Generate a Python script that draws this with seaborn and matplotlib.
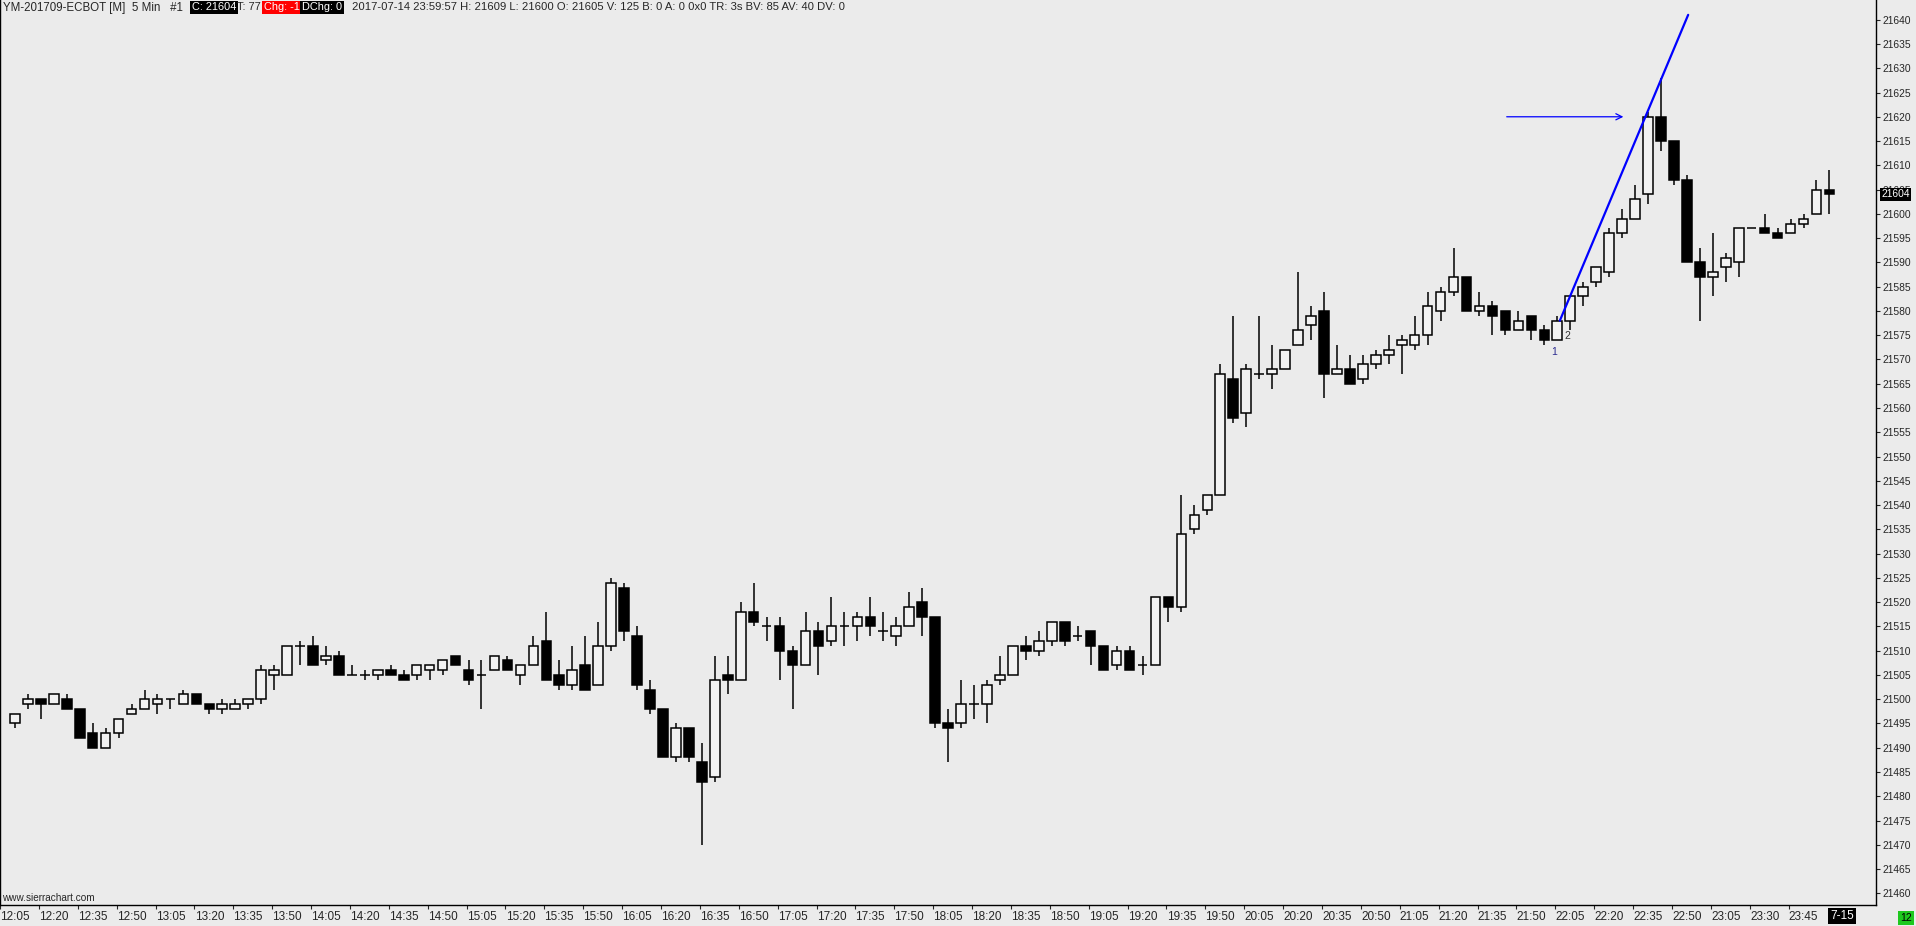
import numpy as np
import pandas as pd
import matplotlib
matplotlib.use('Agg')
import matplotlib.pyplot as plt
import matplotlib.transforms as mtransforms
from matplotlib import font_manager
import seaborn as sns

# Dados das velas de 5 minutos (YM-201709, 14/07/2017)
abertura = [21495, 21499, 21500, 21499, 21500, 21498, 21493, 21490, 21493, 21497,
            21498, 21499, 21500, 21499, 21501, 21499, 21498, 21498, 21499, 21500,
            21505, 21505, 21511, 21511, 21508, 21509, 21505, 21505, 21505, 21506,
            21505, 21505, 21506, 21506, 21509, 21506, 21505, 21506, 21508, 21505,
            21507, 21512, 21505, 21503, 21507, 21503, 21511, 21523, 21513, 21502,
            21498, 21488, 21494, 21487, 21484, 21505, 21504, 21518, 21515, 21515,
            21510, 21507, 21514, 21512, 21515, 21515, 21517, 21514, 21513, 21515,
            21520, 21517, 21495, 21495, 21499, 21499, 21504, 21505, 21511, 21510,
            21512, 21516, 21513, 21514, 21511, 21507, 21510, 21507, 21507, 21521,
            21519, 21535, 21539, 21542, 21566, 21559, 21567, 21567, 21568, 21573,
            21577, 21580, 21567, 21568, 21566, 21569, 21571, 21573, 21573, 21575,
            21580, 21584, 21587, 21580, 21581, 21580, 21576, 21579, 21576, 21574,
            21578, 21583, 21586, 21588, 21596, 21599, 21604, 21620, 21615, 21607,
            21590, 21587, 21589, 21590, 21597, 21597, 21596, 21596, 21598, 21600,
            21605]
maxima = [21497, 21501, 21500, 21501, 21501, 21498, 21495, 21494, 21496, 21499,
          21502, 21501, 21500, 21502, 21501, 21499, 21500, 21500, 21500, 21507,
          21507, 21511, 21512, 21513, 21511, 21510, 21507, 21506, 21506, 21507,
          21506, 21507, 21507, 21508, 21509, 21508, 21508, 21509, 21509, 21507,
          21513, 21518, 21508, 21511, 21513, 21516, 21525, 21524, 21515, 21504,
          21498, 21495, 21494, 21491, 21509, 21509, 21520, 21524, 21517, 21517,
          21511, 21518, 21516, 21521, 21518, 21518, 21521, 21518, 21517, 21522,
          21523, 21517, 21498, 21504, 21503, 21504, 21509, 21511, 21513, 21514,
          21516, 21516, 21515, 21514, 21511, 21511, 21511, 21509, 21521, 21521,
          21542, 21540, 21542, 21569, 21579, 21569, 21579, 21573, 21572, 21588,
          21581, 21584, 21573, 21571, 21571, 21572, 21575, 21575, 21579, 21584,
          21585, 21593, 21587, 21584, 21582, 21580, 21580, 21579, 21577, 21579,
          21583, 21586, 21589, 21597, 21601, 21606, 21621, 21628, 21615, 21608,
          21593, 21596, 21592, 21597, 21597, 21600, 21597, 21599, 21600, 21607,
          21609]
minimas = [21494, 21498, 21496, 21499, 21498, 21492, 21490, 21490, 21492, 21497,
           21498, 21497, 21498, 21499, 21499, 21497, 21497, 21498, 21498, 21499,
           21502, 21505, 21507, 21507, 21507, 21505, 21505, 21504, 21504, 21505,
           21504, 21504, 21504, 21505, 21507, 21503, 21498, 21506, 21506, 21503,
           21507, 21504, 21502, 21502, 21502, 21503, 21510, 21512, 21502, 21497,
           21488, 21487, 21487, 21470, 21483, 21501, 21504, 21515, 21512, 21504,
           21498, 21507, 21505, 21511, 21511, 21512, 21513, 21512, 21511, 21515,
           21513, 21494, 21487, 21494, 21496, 21495, 21503, 21505, 21508, 21509,
           21511, 21511, 21512, 21507, 21506, 21506, 21506, 21505, 21507, 21516,
           21518, 21534, 21538, 21542, 21557, 21556, 21566, 21564, 21568, 21573,
           21574, 21562, 21567, 21565, 21565, 21568, 21569, 21567, 21572, 21573,
           21578, 21583, 21580, 21579, 21575, 21575, 21576, 21574, 21573, 21574,
           21576, 21581, 21585, 21587, 21595, 21599, 21602, 21613, 21606, 21590,
           21578, 21583, 21586, 21587, 21597, 21596, 21595, 21596, 21597, 21600,
           21600]
fechamento = [21497, 21500, 21499, 21501, 21498, 21492, 21490, 21493, 21496, 21498,
              21500, 21500, 21500, 21501, 21499, 21498, 21499, 21499, 21500, 21506,
              21506, 21511, 21511, 21507, 21509, 21505, 21505, 21505, 21506, 21505,
              21504, 21507, 21507, 21508, 21507, 21504, 21505, 21509, 21506, 21507,
              21511, 21504, 21503, 21506, 21502, 21511, 21524, 21514, 21503, 21498,
              21488, 21494, 21488, 21483, 21504, 21504, 21518, 21516, 21515, 21510,
              21507, 21514, 21511, 21515, 21515, 21517, 21515, 21514, 21515, 21519,
              21517, 21495, 21494, 21499, 21499, 21503, 21505, 21511, 21510, 21512,
              21516, 21512, 21513, 21511, 21506, 21510, 21506, 21507, 21521, 21519,
              21534, 21538, 21542, 21567, 21558, 21568, 21567, 21568, 21572, 21576,
              21579, 21567, 21568, 21565, 21569, 21571, 21572, 21574, 21575, 21581,
              21584, 21587, 21580, 21581, 21579, 21576, 21578, 21576, 21574, 21578,
              21583, 21585, 21589, 21596, 21599, 21603, 21620, 21615, 21607, 21590,
              21587, 21588, 21591, 21597, 21597, 21596, 21595, 21598, 21599, 21605,
              21604]

# Rotulos do eixo de tempo (um a cada 3 barras)
rotulos_tempo = ['12:05', '12:20', '12:35', '12:50', '13:05', '13:20', '13:35', '13:50',
                 '14:05', '14:20', '14:35', '14:50', '15:05', '15:20', '15:35', '15:50',
                 '16:05', '16:20', '16:35', '16:50', '17:05', '17:20', '17:35', '17:50',
                 '18:05', '18:20', '18:35', '18:50', '19:05', '19:20', '19:35', '19:50',
                 '20:05', '20:20', '20:35', '20:50', '21:05', '21:20', '21:35', '21:50',
                 '22:05', '22:20', '22:35', '22:50', '23:05', '23:30', '23:45']
precos_eixo = list(range(21460, 21645, 5))

# Desenhos do usuario
linha_x = [119.2, 129.1]
linha_y = [21578, 21641]
seta_x = [115.1, 124.1]
seta_y = 21620
preco_atual = 21604

df = pd.DataFrame({'Abertura': abertura, 'Maxima': maxima,
                   'Minima': minimas, 'Fechamento': fechamento})
df['Barra'] = np.arange(len(df))
df['Alta'] = df['Fechamento'] >= df['Abertura']

sns.set_style('white', {'axes.facecolor': '#ebebeb', 'figure.facecolor': '#ebebeb',
                        'axes.edgecolor': 'black'})
nomes = {f.name for f in font_manager.fontManager.ttflist}
fonte_estreita = 'Liberation Sans Narrow' if 'Liberation Sans Narrow' in nomes else 'Liberation Sans'
plt.rcParams['font.family'] = ['Liberation Sans', 'DejaVu Sans']

W, H = 1916, 926
fig = plt.figure(figsize=(W / 100, H / 100), dpi=100)
ax = fig.add_axes([0, 21 / H, 1876 / W, 905 / H])

# Pavios
ax.vlines(df['Barra'], df['Minima'], df['Maxima'], color='black', linewidth=1.1, zorder=2)
# Corpos
altura = (df['Fechamento'] - df['Abertura']).abs()
base = df[['Abertura', 'Fechamento']].min(axis=1)
cores = np.where(df['Alta'], '#f2f2f2', 'black')
ax.bar(df['Barra'], altura, bottom=base, width=0.74, color=cores,
       edgecolor='black', linewidth=1.1, zorder=3)

# Linha de tendencia e seta
sns.lineplot(x=linha_x, y=linha_y, color='#0000ff', linewidth=1.6, ax=ax, zorder=4)
ax.annotate('', xy=(seta_x[1], seta_y), xytext=(seta_x[0], seta_y),
            arrowprops=dict(arrowstyle='->', color='#0000ff', lw=0.9,
                            shrinkA=0, shrinkB=0, mutation_scale=11), zorder=4)
ax.text(118.75, 21571.6, '1', color='#2b2b8f', fontsize=7.5, ha='center', va='center')
ax.text(119.8, 21574.8, '2', color='#333333', fontsize=7.5, ha='center', va='center')

ax.set_xlim(-9.3 / 13, (1876 - 9.3) / 13)
ax.set_ylim(21457.6, 21644.06)

# Eixo Y a direita
ax.yaxis.tick_right()
ax.set_yticks(precos_eixo)
ax.set_yticklabels([str(p) for p in precos_eixo])
ax.tick_params(axis='y', which='major', right=True, left=False, length=3, width=0.8,
               pad=2, labelsize=7.4, direction='out')

# Eixo X
pos_rotulos = np.arange(len(rotulos_tempo)) * 3
ax.set_xticks(pos_rotulos)
ax.set_xticklabels(rotulos_tempo, fontfamily=fonte_estreita, fontsize=8.5)
ax.set_xticks(pos_rotulos - 1.15, minor=True)
ax.tick_params(axis='x', which='major', length=0, pad=4)
ax.tick_params(axis='x', which='minor', bottom=True, length=3, width=0.8, direction='out')

for lado in ['left', 'right', 'bottom']:
    ax.spines[lado].set_visible(True)
    ax.spines[lado].set_linewidth(1.0)
ax.spines['top'].set_visible(False)
ax.grid(False)
ax.set_xlabel('')
ax.set_ylabel('')

# Caixa do preco atual
trans_y = mtransforms.blended_transform_factory(ax.transAxes, ax.transData)
ax.text(1.0028, preco_atual, str(preco_atual), transform=trans_y, color='white',
        fontsize=7.4, ha='left', va='center', clip_on=False, zorder=10,
        bbox=dict(facecolor='black', edgecolor='none', pad=1.2))

# Rotulo de data
trans_x = mtransforms.blended_transform_factory(ax.transData, ax.transAxes)
ax.text(141, -0.0122, '7-15', transform=trans_x, color='white', fontsize=8.5,
        fontfamily=fonte_estreita, ha='center', va='center', clip_on=False, zorder=10,
        bbox=dict(facecolor='black', edgecolor='none', pad=1.5))

# Cabecalho
def fx(px):
    return px / W

def fy(py):
    return 1 - py / H

yc = 7.5
tam = 7.9
fig.text(fx(3), fy(yc), 'YM-201709-ECBOT [M]  5 Min   #1', fontsize=8.3, va='center')
fig.text(fx(192), fy(yc), 'C: 21604', fontsize=tam, va='center', color='white',
         bbox=dict(facecolor='black', edgecolor='none', pad=1.2))
fig.text(fx(237), fy(yc), 'T: 77', fontsize=tam, va='center')
fig.text(fx(264), fy(yc), 'Chg: -1', fontsize=tam, va='center', color='white',
         bbox=dict(facecolor='#ff0000', edgecolor='none', pad=1.2))
fig.text(fx(302), fy(yc), 'DChg: 0', fontsize=tam, va='center', color='white',
         bbox=dict(facecolor='black', edgecolor='none', pad=1.2))
fig.text(fx(352), fy(yc),
         '2017-07-14 23:59:57 H: 21609 L: 21600 O: 21605 V: 125 B: 0 A: 0 0x0 '
         'TR: 3s BV: 85 AV: 40 DV: 0', fontsize=8.1, va='center')

fig.text(fx(2), fy(898), 'www.sierrachart.com', fontsize=7.2, va='center')
fig.text(fx(1906), fy(918), '12', fontsize=7.5, va='center', ha='center', color='black',
         bbox=dict(facecolor='#1ec81e', edgecolor='none', pad=1.5))

plt.savefig('out.png', dpi=100, facecolor=fig.get_facecolor())
